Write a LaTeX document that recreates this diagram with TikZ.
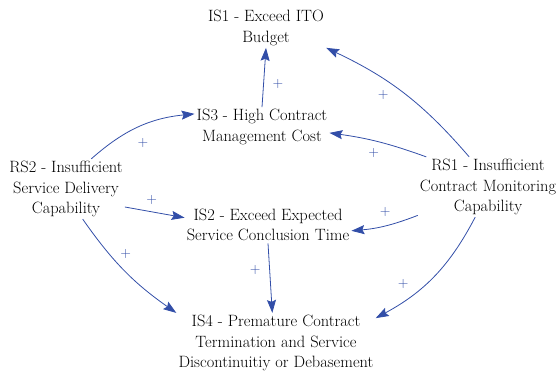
\documentclass[tikz,border=0pt]{standalone}
\usepackage{tikz}
\usetikzlibrary{arrows.meta,positioning}
\definecolor{linkblue}{RGB}{50,78,168}

\begin{document}
\begin{tikzpicture}[x=1pt,y=1pt,
    factor/.style={align=center,inner sep=2pt,font=\fontsize{16.4}{20.5}\selectfont},
    link/.style={draw=linkblue,line width=0.8pt,-{Stealth[length=13pt,width=9pt,inset=2pt]}},
    sign/.style={text=linkblue,inner sep=0pt,font=\fontsize{14}{14}\selectfont}]
  \useasboundingbox (0,0) rectangle (559,372);
  % factors
  \node[factor] (is1) at (266,344) {IS1 - Exceed ITO\\Budget};
  \node[factor] (is3) at (262,245) {IS3 - High Contract\\Management Cost};
  \node[factor] (rs2) at (66,183) {RS2 - Insufficient\\Service Delivery\\Capability};
  \node[factor] (is2) at (268,147) {IS2 - Exceed Expected\\Service Conclusion Time};
  \node[factor] (rs1) at (488,185) {RS1 - Insufficient\\Contract Monitoring\\Capability};
  \node[factor] (is4) at (276,29) {IS4 - Premature Contract\\Termination and Service\\Discontinuitiy or Debasement};
  % links
  \draw[link] (is3.north) -- (is1.south)
    node[sign,midway,xshift=14pt,yshift=-7pt] (s1) {+};
  \draw[link] (rs1.122) to[bend right=12]
    node[sign,midway,xshift=-21pt,yshift=-1pt] (s2) {+} (is1.south east);
  \draw[link] (rs1.154) to[bend right=6]
    node[sign,midway,xshift=-5pt,yshift=-11pt] (s3) {+} (is3.-5);
  \draw[link] (rs2.50) to[bend left=18]
    node[sign,midway,xshift=4pt,yshift=-16pt] (s4) {+} (is3.169);
  \draw[link] (rs2.-17) -- (is2.175)
    node[sign,midway,xshift=-3pt,yshift=12pt] (s5) {+};
  \draw[link] (rs1.202) to[bend left=8]
    node[sign,midway,yshift=14pt] (s6) {+} (is2.-4);
  \draw[link] (rs2.-61) to[bend right=10]
    node[sign,midway,xshift=1pt,yshift=17pt] (s7) {+} (is4.north west);
  \draw[link] (is2.south) -- (is4.97)
    node[sign,midway,xshift=-15pt,yshift=8pt] (s8) {+};
  \draw[link] (rs1.247) to[bend left=17]
    node[sign,midway,xshift=-31pt,yshift=-8pt] (s9) {+} (is4.14);
\end{tikzpicture}
\end{document}
